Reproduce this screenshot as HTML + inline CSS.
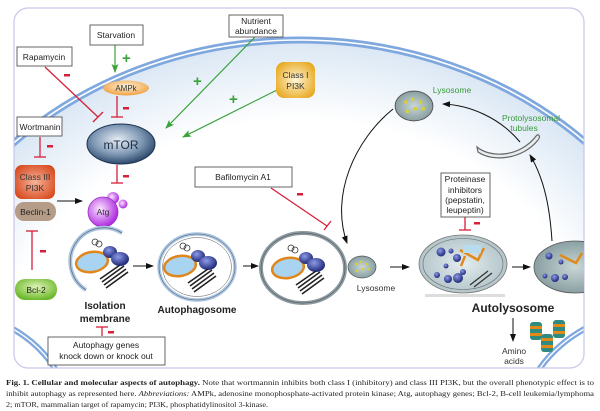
<!DOCTYPE html>
<html><head><meta charset="utf-8"><style>
html,body{margin:0;padding:0;background:#fff;width:600px;height:411px;overflow:hidden;}
svg{display:block;font-family:"Liberation Sans",Arial,sans-serif;}
</style></head><body>
<svg width="600" height="411" viewBox="0 0 600 411" xmlns="http://www.w3.org/2000/svg">
<defs>
<radialGradient id="cell" cx="300" cy="400" r="420" gradientUnits="userSpaceOnUse" gradientTransform="translate(300 400) scale(1 0.9) translate(-300 -400)">
<stop offset="0.74" stop-color="#fff"/><stop offset="1" stop-color="#d2e2f2"/></radialGradient>
<radialGradient id="mtor" cx="0.45" cy="0.4" r="0.6"><stop offset="0" stop-color="#e8eef5"/><stop offset="0.6" stop-color="#7f98b5"/><stop offset="1" stop-color="#2e4a6d"/></radialGradient>
<radialGradient id="ampk" cx="0.5" cy="0.4" r="0.6"><stop offset="0" stop-color="#fff4dd"/><stop offset="1" stop-color="#f0a040"/></radialGradient>
<radialGradient id="c1" cx="0.5" cy="0.5" r="0.6"><stop offset="0" stop-color="#fff6d6"/><stop offset="1" stop-color="#e8a820"/></radialGradient>
<radialGradient id="c3" cx="0.5" cy="0.5" r="0.6"><stop offset="0" stop-color="#f5b49a"/><stop offset="1" stop-color="#d84a20"/></radialGradient>
<radialGradient id="atg" cx="0.4" cy="0.4" r="0.6"><stop offset="0" stop-color="#fbe6ff"/><stop offset="1" stop-color="#b02ee0"/></radialGradient>
<radialGradient id="bcl" cx="0.5" cy="0.4" r="0.6"><stop offset="0" stop-color="#e2f5b8"/><stop offset="1" stop-color="#6ab82a"/></radialGradient>
<radialGradient id="lys" cx="0.5" cy="0.5" r="0.6"><stop offset="0" stop-color="#c9d6d6"/><stop offset="1" stop-color="#7d9598"/></radialGradient>
<radialGradient id="auto" cx="0.5" cy="0.5" r="0.6"><stop offset="0" stop-color="#e4ecee"/><stop offset="1" stop-color="#a9bdc2"/></radialGradient>
<radialGradient id="blob" cx="0.4" cy="0.35" r="0.6"><stop offset="0" stop-color="#8d9be8"/><stop offset="1" stop-color="#26307e"/></radialGradient>
<marker id="ab" markerWidth="8" markerHeight="8" refX="7" refY="4" orient="auto" markerUnits="userSpaceOnUse"><path d="M0,1 L8,4 L0,7 z" fill="#111"/></marker>
<marker id="ag" markerWidth="9" markerHeight="8" refX="8" refY="4" orient="auto" markerUnits="userSpaceOnUse"><path d="M0,0.5 L9,4 L0,7.5 L2,4 z" fill="#3aa23a"/></marker>
<clipPath id="fr"><rect x="14" y="8" width="570" height="360" rx="14"/></clipPath>
<g id="cargo">
<ellipse cx="0" cy="0" rx="16" ry="10" fill="#a8d4f2" stroke="#e0861a" stroke-width="2.5" transform="rotate(-10)"/>
<ellipse cx="18" cy="-10" rx="7" ry="6" fill="url(#blob)"/>
<ellipse cx="28" cy="-3" rx="9" ry="7" fill="url(#blob)"/>
<path d="M10,20 l22,-16 M12,23 l22,-16 M14,26 l22,-16 M8,17 l20,-14" stroke="#222" stroke-width="1.6"/>
<circle cx="3" cy="-20" r="3" fill="none" stroke="#333" stroke-width="0.8"/><circle cx="7" cy="-18" r="3" fill="none" stroke="#333" stroke-width="0.8"/>
</g>
<g id="lyso"><ellipse cx="0" cy="0" rx="14" ry="11" fill="url(#lys)" stroke="#555" stroke-width="0.7"/>
<g fill="#d8d030"><circle cx="-6" cy="-3" r="1.3"/><circle cx="-1" cy="-5" r="1.3"/><circle cx="5" cy="-3" r="1.3"/><circle cx="7" cy="2" r="1.3"/><circle cx="1" cy="2" r="1.3"/><circle cx="-5" cy="4" r="1.3"/></g></g>
<g id="st"><rect x="0" y="0" width="12" height="18" rx="3" fill="#2f8a80"/><rect x="0" y="4" width="12" height="3" fill="#e08a1a"/><rect x="0" y="11" width="12" height="3" fill="#e08a1a"/></g>
</defs>
<g clip-path="url(#fr)">
<rect x="14" y="8" width="570" height="360" fill="#fff"/>
<ellipse cx="300" cy="400" rx="409" ry="360" fill="url(#cell)"/>
<ellipse cx="300" cy="400" rx="409" ry="360" fill="none" stroke="#7fa8de" stroke-width="7"/>
<ellipse cx="300" cy="400" rx="409" ry="360" fill="none" stroke="#fff" stroke-width="1.6"/>
<ellipse cx="-60" cy="420" rx="130" ry="110" fill="none" stroke="#7fa8de" stroke-width="6"/>
<ellipse cx="-60" cy="420" rx="130" ry="110" fill="none" stroke="#fff" stroke-width="1.4"/>
<ellipse cx="660" cy="430" rx="140" ry="120" fill="none" stroke="#7fa8de" stroke-width="6"/>
<ellipse cx="660" cy="430" rx="140" ry="120" fill="none" stroke="#fff" stroke-width="1.4"/>
</g>
<rect x="14" y="8" width="570" height="360" rx="14" fill="none" stroke="#c9c6ea" stroke-width="1.2"/>

<line x1="115" y1="45" x2="115" y2="72" stroke="#3aa23a" stroke-width="1.2" marker-end="url(#ag)"/>
<line x1="255" y1="37" x2="166" y2="128" stroke="#3aa23a" stroke-width="1.2" marker-end="url(#ag)"/>
<line x1="277" y1="90" x2="183" y2="137" stroke="#3aa23a" stroke-width="1.2" marker-end="url(#ag)"/>
<g fill="#3aa23a" font-weight="bold" font-size="15">
<text x="122" y="63">+</text><text x="193" y="86">+</text><text x="229" y="104">+</text></g>

<g stroke="#d6203a" stroke-width="1.3" fill="none">
<line x1="45" y1="67" x2="98" y2="117"/><line x1="93" y1="122" x2="103" y2="112"/>
<line x1="117" y1="96" x2="117" y2="117"/><line x1="111" y1="117" x2="123" y2="117"/>
<line x1="40" y1="137" x2="40" y2="157"/><line x1="34" y1="157" x2="46" y2="157"/>
<line x1="117" y1="165" x2="117" y2="183"/><line x1="111" y1="183" x2="123" y2="183"/>
<line x1="32" y1="270" x2="32" y2="231"/><line x1="26" y1="231" x2="38" y2="231"/>
<line x1="271" y1="188" x2="327" y2="226"/><line x1="324" y1="230" x2="331" y2="221"/>
<line x1="465" y1="217" x2="465" y2="230"/><line x1="459" y1="230" x2="471" y2="230"/>
<line x1="102" y1="336" x2="102" y2="327"/><line x1="96" y1="327" x2="108" y2="327"/>
</g>
<g fill="#d6203a">
<rect x="64" y="74" width="6" height="2.5"/><rect x="123" y="107" width="6" height="2.5"/>
<rect x="47" y="145" width="6" height="2.5"/><rect x="123" y="175" width="6" height="2.5"/>
<rect x="40" y="250" width="6" height="2.5"/><rect x="297" y="193" width="6" height="2.5"/>
<rect x="474" y="222" width="6" height="2.5"/><rect x="108" y="331" width="6" height="2.5"/>
</g>

<g fill="#fff" stroke="#555" stroke-width="0.9">
<rect x="90" y="25" width="53" height="20"/>
<rect x="17" y="47" width="55" height="19"/>
<rect x="229" y="15" width="54" height="22"/>
<rect x="17" y="117" width="45" height="19"/>
<rect x="195" y="167" width="97" height="20"/>
<rect x="441" y="173" width="49" height="44"/>
<rect x="48" y="337" width="117" height="28"/>
</g>
<g font-size="8.5" fill="#222" text-anchor="middle">
<text x="116" y="38">Starvation</text>
<text x="44" y="60">Rapamycin</text>
<text x="256" y="24">Nutrient</text><text x="256" y="34">abundance</text>
<text x="40" y="130">Wortmanin</text>
<text x="243" y="180">Bafilomycin A1</text>
<text x="465" y="182">Proteinase</text><text x="465" y="193">inhibitors</text><text x="465" y="203">(pepstatin,</text><text x="465" y="213">leupeptin)</text>
<text x="106" y="348">Autophagy genes</text><text x="106" y="359">knock down or knock out</text>
</g>

<ellipse cx="126" cy="88" rx="23" ry="7.5" fill="url(#ampk)"/>
<text x="126" y="91" font-size="8" text-anchor="middle" fill="#333">AMPk</text>
<rect x="276" y="62" width="39" height="36" rx="8" fill="url(#c1)"/>
<text x="295.5" y="78" font-size="8.5" text-anchor="middle" fill="#333">Class I</text>
<text x="295.5" y="89" font-size="8.5" text-anchor="middle" fill="#333">PI3K</text>
<ellipse cx="121" cy="144" rx="34" ry="20" fill="url(#mtor)" stroke="#1e3450" stroke-width="1"/>
<text x="121" y="149" font-size="12" text-anchor="middle" fill="#1e2e44">mTOR</text>
<rect x="15" y="165" width="40" height="34" rx="7" fill="url(#c3)"/>
<text x="35" y="180" font-size="8.5" text-anchor="middle" fill="#333">Class III</text>
<text x="35" y="191" font-size="8.5" text-anchor="middle" fill="#333">PI3K</text>
<rect x="15" y="202" width="41" height="19" rx="9" fill="#b59c88"/>
<text x="35.5" y="215" font-size="8.5" text-anchor="middle" fill="#222">Beclin-1</text>
<line x1="57" y1="201" x2="82" y2="201" stroke="#111" stroke-width="1" marker-end="url(#ab)"/>
<circle cx="113" cy="198" r="6" fill="url(#atg)"/><circle cx="123" cy="204" r="4.5" fill="url(#atg)"/>
<circle cx="103" cy="212" r="15" fill="url(#atg)" stroke="#9a30c0" stroke-width="0.8"/>
<text x="103" y="215" font-size="8.5" text-anchor="middle" fill="#333">Atg</text>
<rect x="15" y="279" width="42" height="21" rx="10" fill="url(#bcl)"/>
<text x="36" y="293" font-size="8.5" text-anchor="middle" fill="#222">Bcl-2</text>

<path d="M122,233 A32,32 0 1 0 86,290" fill="none" stroke="#a9c6e4" stroke-width="4"/>
<path d="M122,233 A32,32 0 1 0 86,290" fill="none" stroke="#555" stroke-width="0.6"/>
<use href="#cargo" x="92" y="262"/>
<use href="#cargo" x="180" y="266"/>
<use href="#cargo" x="288" y="268"/>
<g font-size="10" font-weight="bold" fill="#222" text-anchor="middle">
<text x="105" y="309">Isolation</text><text x="105" y="322">membrane</text>
<text x="197" y="313">Autophagosome</text>
<text x="513" y="312" font-size="12">Autolysosome</text>
</g>
<line x1="133" y1="266" x2="153" y2="266" stroke="#111" stroke-width="1" marker-end="url(#ab)"/>
<ellipse cx="197" cy="267" rx="38" ry="33" fill="none" stroke="#a9c6e4" stroke-width="3.5"/>
<ellipse cx="197" cy="267" rx="38" ry="33" fill="none" stroke="#555" stroke-width="0.5"/>
<ellipse cx="197" cy="267" rx="34.5" ry="29.5" fill="none" stroke="#555" stroke-width="0.5"/>
<line x1="243" y1="266" x2="258" y2="266" stroke="#111" stroke-width="1" marker-end="url(#ab)"/>
<ellipse cx="303" cy="268" rx="42" ry="35" fill="none" stroke="#8a9aa0" stroke-width="4"/>
<ellipse cx="303" cy="268" rx="42" ry="35" fill="none" stroke="#444" stroke-width="0.5"/>
<use href="#lyso" x="362" y="267"/>
<text x="376" y="291" font-size="8.5" text-anchor="middle" fill="#333">Lysosome</text>
<line x1="390" y1="267" x2="409" y2="267" stroke="#111" stroke-width="1" marker-end="url(#ab)"/>

<ellipse cx="463" cy="264" rx="44" ry="29" fill="url(#auto)" stroke="#777" stroke-width="0.8"/>
<ellipse cx="463" cy="264" rx="40" ry="25.5" fill="none" stroke="#666" stroke-width="0.6"/>
<g fill="url(#blob)"><circle cx="441" cy="252" r="4.5"/><circle cx="451" cy="251" r="2.5"/><circle cx="457" cy="258" r="4"/><circle cx="446" cy="266" r="2.5"/><circle cx="437" cy="275" r="3"/><circle cx="448" cy="279" r="4"/><circle cx="458" cy="278" r="5"/><circle cx="463" cy="272" r="3"/></g>
<path d="M460,250 l18,10 l6,-12 M465,256 l-4,10" stroke="#e08a1a" stroke-width="2.5" fill="none"/>
<rect x="463" y="245" width="18" height="8" fill="#b8dcef"/>
<path d="M470,285 l18,-14 M474,287 l18,-14" stroke="#333" stroke-width="1.3"/>
<line x1="512" y1="267" x2="530" y2="267" stroke="#111" stroke-width="1" marker-end="url(#ab)"/>
<g clip-path="url(#fr)">
<ellipse cx="575" cy="267" rx="41" ry="26" fill="url(#lys)" stroke="#555" stroke-width="0.8"/>
<g fill="url(#blob)"><circle cx="549" cy="256" r="3.5"/><circle cx="561" cy="262" r="2.5"/><circle cx="545" cy="276" r="2.5"/><circle cx="555" cy="278" r="4"/><circle cx="565" cy="277" r="3"/></g>
<path d="M560,255 l16,8 l6,-10" stroke="#e08a1a" stroke-width="2.5" fill="none"/>
</g>
<rect x="425" y="294" width="80" height="3" fill="#ddd"/>

<path d="M393,109 C355,140 330,195 347,243" fill="none" stroke="#111" stroke-width="1" marker-end="url(#ab)"/>
<path d="M552,241 C550,210 545,180 530,155" fill="none" stroke="#111" stroke-width="1" marker-end="url(#ab)"/>
<path d="M520,142 C500,118 470,105 443,104" fill="none" stroke="#111" stroke-width="1" marker-end="url(#ab)"/>
<g transform="translate(414,106) scale(1.35)"><use href="#lyso"/></g>
<text x="452" y="93" font-size="8.5" text-anchor="middle" fill="#3a9a3a">Lysosome</text>
<text x="531" y="121" font-size="8.5" text-anchor="middle" fill="#3a9a3a">Protolysosomal</text>
<text x="524" y="131" font-size="8.5" text-anchor="middle" fill="#3a9a3a">tubules</text>
<path d="M477,147 C490,158 520,158 537,135 C540,134 540,138 538,140 C522,160 492,162 478,152 Z" fill="#e8eef0" stroke="#666" stroke-width="1.2"/>

<line x1="513" y1="318" x2="513" y2="341" stroke="#111" stroke-width="1" marker-end="url(#ab)"/>
<text x="514" y="354" font-size="8.5" text-anchor="middle" fill="#333">Amino</text>
<text x="514" y="364" font-size="8.5" text-anchor="middle" fill="#333">acids</text>
<use href="#st" x="530" y="322"/><use href="#st" x="553" y="320"/><use href="#st" x="541" y="334"/>

<g font-family="'Liberation Serif',serif" font-size="7.6" fill="#222">
<text x="6" y="385" textLength="588" lengthAdjust="spacingAndGlyphs"><tspan font-weight="bold">Fig. 1. Cellular and molecular aspects of autophagy.</tspan> Note that wortmannin inhibits both class I (inhibitory) and class III PI3K, but the overall phenotypic effect is to</text>
<text x="6" y="396" textLength="588" lengthAdjust="spacingAndGlyphs">inhibit autophagy as represented here. <tspan font-style="italic">Abbreviations:</tspan> AMPk, adenosine monophosphate-activated protein kinase; Atg, autophagy genes; Bcl-2, B-cell leukemia/lymphoma</text>
<text x="6" y="407" textLength="262" lengthAdjust="spacingAndGlyphs">2; mTOR, mammalian target of rapamycin; PI3K, phosphatidylinositol 3-kinase.</text>
</g>
</svg>
</body></html>
